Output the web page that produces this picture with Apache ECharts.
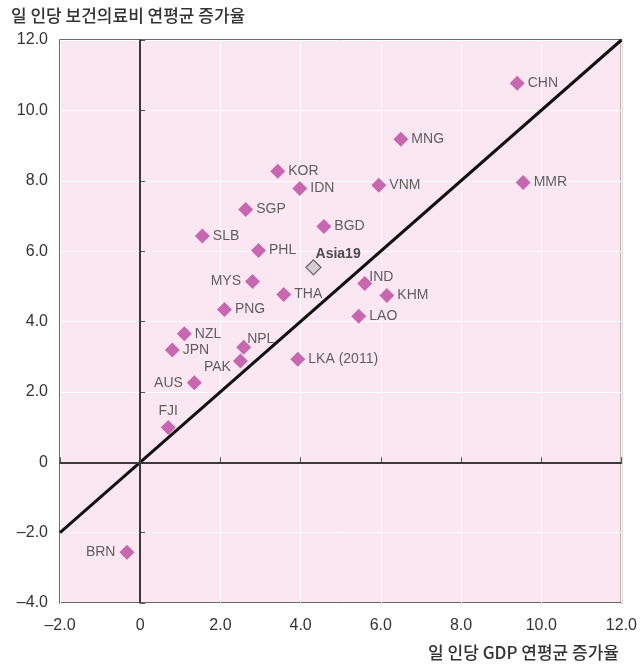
<!DOCTYPE html>
<html>
<head>
<meta charset="utf-8">
<script src="https://cdn.jsdelivr.net/npm/echarts@6/dist/echarts.min.js"></script>
<style>html,body{margin:0;padding:0;background:#fff}#c{width:640px;height:668px}</style>
</head>
<body>
<div id="c"></div>
<script>
const countries = ['CHN','MNG','MMR','KOR','IDN','VNM','SGP','BGD','SLB','PHL','MYS','IND','THA','KHM','PNG','LAO','NZL','JPN','NPL','PAK','LKA (2011)','AUS','FJI','BRN'];
const gdpGrowth = [9.4, 6.5, 9.55, 3.43, 3.98, 5.95, 2.63, 4.58, 1.55, 2.95, 2.8, 5.6, 3.58, 6.15, 2.1, 5.45, 1.1, 0.8, 2.58, 2.5, 3.93, 1.35, 0.7, -0.33];
const healthGrowth = [10.77, 9.18, 7.95, 8.27, 7.78, 7.87, 7.18, 6.7, 6.43, 6.02, 5.14, 5.08, 4.77, 4.74, 4.34, 4.15, 3.65, 3.19, 3.27, 2.88, 2.93, 2.26, 0.99, -2.56];
const asiaName = 'Asia19';
const asiaGdp = 4.32;
const asiaHealth = 5.54;
const xTicks = [-2, 0, 2, 4, 6, 8, 10, 12];
const yTicks = [-4, -2, 0, 2, 4, 6, 8, 10, 12];
const refLine = [[-2, -2], [12, 12]];
const yTitle = '일 인당 보건의료비 연평균 증가율';
const xTitle = '일 인당 GDP 연평균 증가율';

const labelStyle = {
  'MYS': {position: 'left', distance: 4},
  'AUS': {position: 'left', distance: 4},
  'BRN': {position: 'left', distance: 4},
  'PAK': {position: 'left', distance: 2, offset: [0, 6]},
  'FJI': {position: 'top', distance: 2},
  'NPL': {position: 'right', distance: 0, offset: [-4, -8]},
  'IND': {position: 'right', distance: 0, offset: [-3, -6]}
};

const fmt = v => v === 0 ? '0' : (v < 0 ? '–' : '') + Math.abs(v).toFixed(1);

const points = countries.map((n, i) => {
  const s = labelStyle[n] || {position: 'right', distance: 3};
  return {name: n, value: [gdpGrowth[i], healthGrowth[i]], label: Object.assign({show: true, formatter: '{b}'}, s)};
});

const chart = echarts.init(document.getElementById('c'));
chart.setOption({
  animation: false,
  title: [
    {text: yTitle, left: 6, top: 2, textStyle: {fontFamily: 'Noto Sans CJK KR', fontSize: 17, fontWeight: 500, color: '#333'}},
    {text: xTitle, right: 16, bottom: 2, textStyle: {fontFamily: 'Noto Sans CJK KR', fontSize: 17, fontWeight: 500, color: '#333'}}
  ],
  grid: {left: 60, right: 18, top: 40, bottom: 65, show: true, backgroundColor: '#fbe7f1', borderColor: '#3a3a3a', borderWidth: 1.5},
  xAxis: {
    type: 'value', min: xTicks[0], max: xTicks[xTicks.length - 1], interval: 2,
    axisLine: {show: true, lineStyle: {color: '#3a3a3a', width: 1.5}},
    axisTick: {show: true, inside: true, length: 5, lineStyle: {color: '#555'}},
    axisLabel: {formatter: fmt, fontFamily: 'Liberation Sans', fontSize: 16, color: '#333', margin: 15},
    splitLine: {show: true, lineStyle: {color: '#ffffff', width: 1}}
  },
  yAxis: {
    type: 'value', min: yTicks[0], max: yTicks[yTicks.length - 1], interval: 2,
    axisLine: {show: true, lineStyle: {color: '#3a3a3a', width: 1.5}},
    axisTick: {show: true, inside: true, length: 5, lineStyle: {color: '#555'}},
    axisLabel: {formatter: fmt, fontFamily: 'Liberation Sans', fontSize: 16, color: '#333', margin: 12},
    splitLine: {show: true, lineStyle: {color: '#ffffff', width: 1}}
  },
  series: [
    {
      type: 'line', data: refLine, symbol: 'none', silent: true,
      lineStyle: {color: '#111', width: 3}, z: 3,
      markLine: {
        silent: true, symbol: 'none', label: {show: false},
        lineStyle: {color: '#3a3a3a', width: 2, type: 'solid'},
        data: [{xAxis: 0}, {yAxis: 0}]
      }
    },
    {
      type: 'scatter', data: points, symbol: 'diamond', symbolSize: 15, z: 5,
      itemStyle: {color: '#b9479f'},
      label: {fontFamily: 'Liberation Sans', fontSize: 14, color: '#3a3a3a'}
    },
    {
      type: 'scatter', data: [{name: asiaName, value: [asiaGdp, asiaHealth]}], symbol: 'diamond', symbolSize: 15, z: 5,
      itemStyle: {color: '#c9c9c9', borderColor: '#444', borderWidth: 1.2},
      label: {show: true, formatter: '{b}', position: 'right', distance: 0, offset: [-6, -13], fontFamily: 'Liberation Sans', fontSize: 14, fontWeight: 'bold', color: '#222'}
    }
  ]
});
</script>
</body>
</html>
